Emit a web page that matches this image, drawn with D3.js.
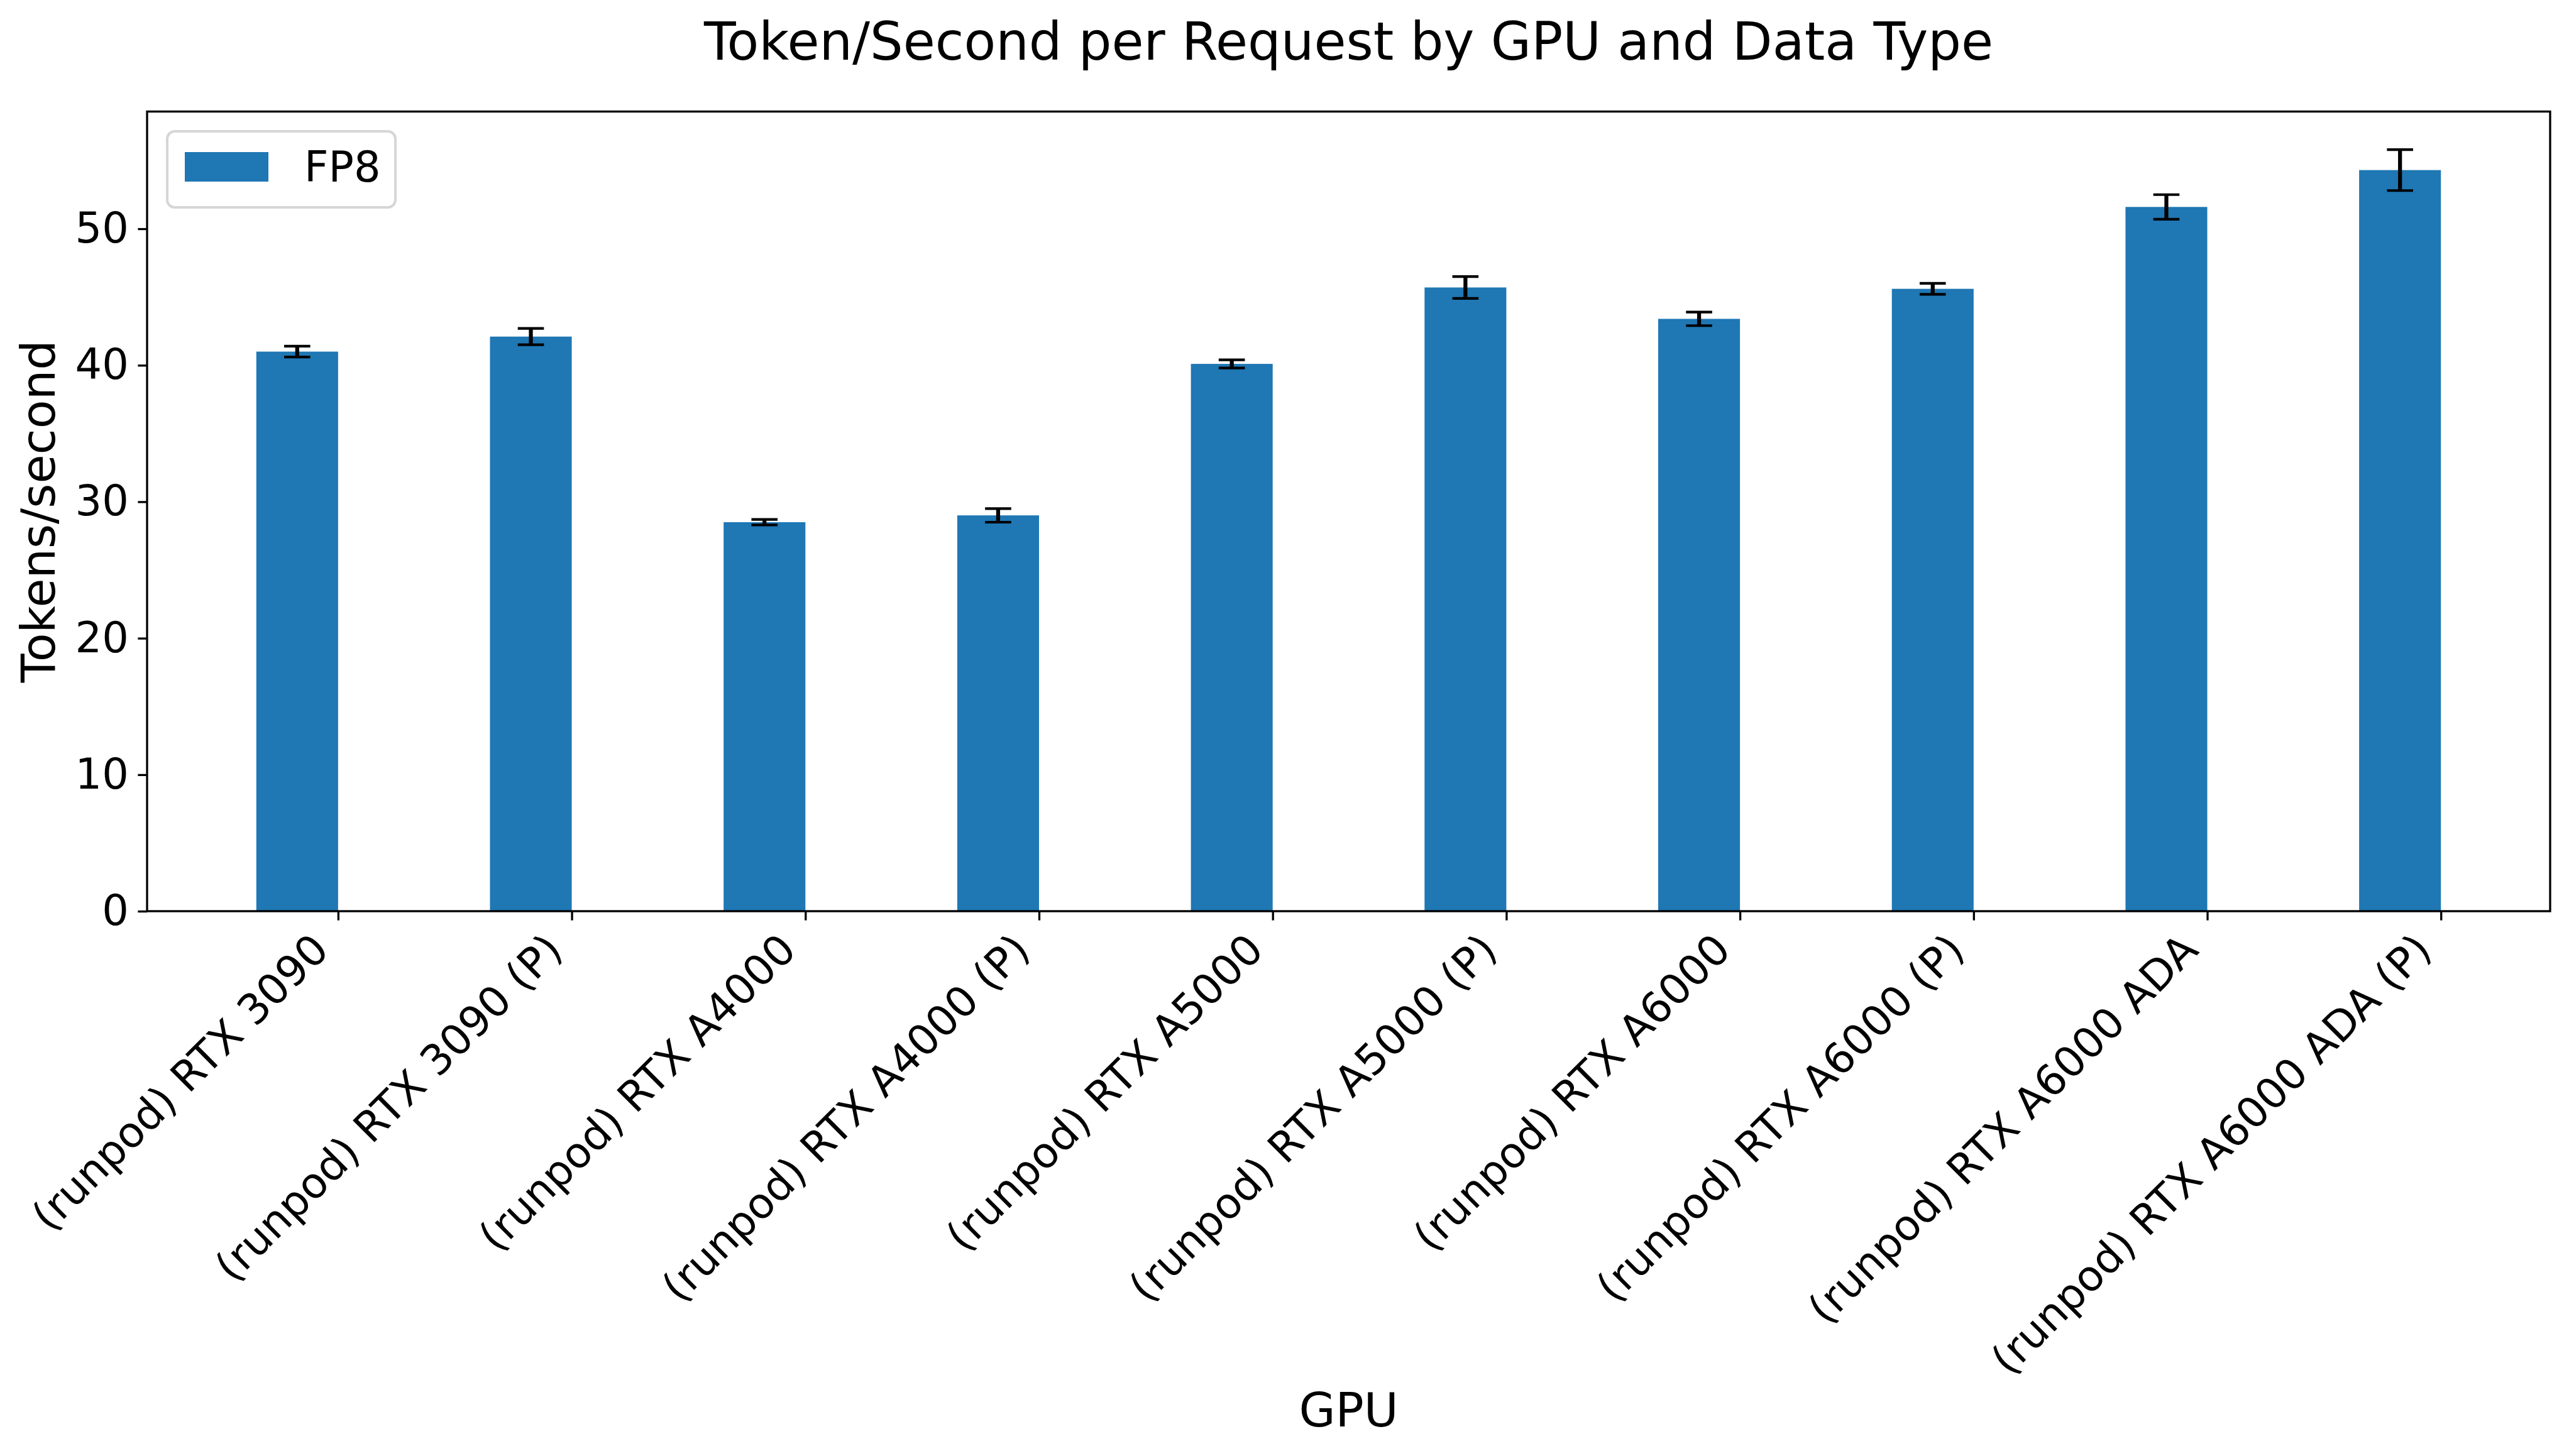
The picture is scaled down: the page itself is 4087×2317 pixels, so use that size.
<!DOCTYPE html>
<html>
<head>
<meta charset="utf-8">
<script src="https://cdn.jsdelivr.net/npm/d3@7"></script>
<style>
  body { margin: 0; background: #fff; }
  text { font-family: "DejaVu Sans", sans-serif; }
</style>
</head>
<body>
<div id="chart"></div>
<script>
// Data
var gpus = [
  "(runpod) RTX 3090",
  "(runpod) RTX 3090 (P)",
  "(runpod) RTX A4000",
  "(runpod) RTX A4000 (P)",
  "(runpod) RTX A5000",
  "(runpod) RTX A5000 (P)",
  "(runpod) RTX A6000",
  "(runpod) RTX A6000 (P)",
  "(runpod) RTX A6000 ADA",
  "(runpod) RTX A6000 ADA (P)"
];
var fp8Values = [41.0, 42.1, 28.5, 29.0, 40.1, 45.7, 43.4, 45.6, 51.6, 54.3];
var fp8Errors = [0.4, 0.6, 0.2, 0.5, 0.3, 0.8, 0.5, 0.4, 0.9, 1.5];
var yTicks = [0, 10, 20, 30, 40, 50];
var seriesName = "FP8";

// svg size + plot box
var svgWidth = 4087;
var svgHeight = 2317;
var plot = { left: 234, right: 4057, top: 177.5, bottom: 1450 };

var barWidth = 0.35; // in category units, bar sits left of the tick
var tickFont = 67;
var labelFont = 75;
var titleFont = 83;
var blue = "#1f77b4";

var svg = d3.select("#chart")
  .append("svg")
  .attr("width", svgWidth)
  .attr("height", svgHeight);

// x is linear over the index, matplotlib style margins
var xMin = -barWidth;
var xMax = gpus.length - 1;
var xPad = (xMax - xMin) * 0.05;
var x = d3.scaleLinear()
  .domain([xMin - xPad, xMax + xPad])
  .range([plot.left, plot.right]);

var yTop = d3.max(fp8Values, (d, i) => d + fp8Errors[i]) * 1.05;
var y = d3.scaleLinear()
  .domain([0, yTop])
  .range([plot.bottom, plot.top]);

// bars
svg.append("g")
  .selectAll("rect")
  .data(fp8Values)
  .enter()
  .append("rect")
  .attr("x", (d, i) => x(i - barWidth))
  .attr("width", x(barWidth) - x(0))
  .attr("y", d => y(d))
  .attr("height", d => y(0) - y(d))
  .attr("fill", blue);

// error bars
var capHalf = 20.8;
var errGroup = svg.append("g")
  .selectAll("g")
  .data(fp8Values)
  .enter()
  .append("g");

errGroup.append("line")
  .attr("x1", (d, i) => x(i - barWidth / 2))
  .attr("x2", (d, i) => x(i - barWidth / 2))
  .attr("y1", (d, i) => y(d - fp8Errors[i]))
  .attr("y2", (d, i) => y(d + fp8Errors[i]))
  .attr("stroke", "#000")
  .attr("stroke-width", 6.25);

[-1, 1].forEach(function(sign) {
  errGroup.append("line")
    .attr("x1", (d, i) => x(i - barWidth / 2) - capHalf)
    .attr("x2", (d, i) => x(i - barWidth / 2) + capHalf)
    .attr("y1", (d, i) => y(d + sign * fp8Errors[i]))
    .attr("y2", (d, i) => y(d + sign * fp8Errors[i]))
    .attr("stroke", "#000")
    .attr("stroke-width", 4.2);
});

// y axis
var leftAxis = d3.axisLeft(y)
  .tickValues(yTicks)
  .tickSize(14.6)
  .tickPadding(14.6);

var yAxis = svg.append("g")
  .attr("transform", `translate(${plot.left}, 0)`)
  .call(leftAxis);
yAxis.select(".domain").remove();
yAxis.selectAll("line").attr("stroke-width", 3.3);
yAxis.selectAll("text")
  .attr("font-size", tickFont)
  .attr("font-family", "DejaVu Sans")
  .attr("fill", "#000");

// x axis ticks (labels drawn separately, rotated)
var bottomAxis = d3.axisBottom(x)
  .tickValues(d3.range(gpus.length))
  .tickSize(14.6)
  .tickFormat("");

var xAxis = svg.append("g")
  .attr("transform", `translate(0, ${plot.bottom})`)
  .call(bottomAxis);
xAxis.select(".domain").remove();
xAxis.selectAll("line").attr("stroke-width", 3.3);

// rotated tick labels, right/top aligned at the tick
var c45 = Math.SQRT1_2;
var asc = 0.76 * tickFont;
var desc = 0.24 * tickFont;
var labelTop = plot.bottom + 14.6 + 14.6;
svg.append("g")
  .selectAll("text")
  .data(gpus)
  .enter()
  .append("text")
  .attr("transform", (d, i) =>
    `translate(${x(i) - desc * c45}, ${labelTop + asc * c45}) rotate(-45)`)
  .attr("text-anchor", "end")
  .attr("font-size", tickFont)
  .attr("fill", "#000")
  .text(d => d);

// frame
svg.append("rect")
  .attr("x", plot.left)
  .attr("y", plot.top)
  .attr("width", plot.right - plot.left)
  .attr("height", plot.bottom - plot.top)
  .attr("fill", "none")
  .attr("stroke", "#000")
  .attr("stroke-width", 3.3);

// title + axis labels
svg.append("text")
  .attr("x", (plot.left + plot.right) / 2)
  .attr("y", 95)
  .attr("text-anchor", "middle")
  .attr("font-size", titleFont)
  .text("Token/Second per Request by GPU and Data Type");

svg.append("text")
  .attr("x", (plot.left + plot.right) / 2)
  .attr("y", 2270)
  .attr("text-anchor", "middle")
  .attr("font-size", labelFont)
  .text("GPU");

svg.append("text")
  .attr("transform", `translate(87, ${(plot.top + plot.bottom) / 2}) rotate(-90)`)
  .attr("text-anchor", "middle")
  .attr("font-size", labelFont)
  .text("Tokens/second");

// legend
var legend = svg.append("g");
legend.append("rect")
  .attr("x", 266)
  .attr("y", 209)
  .attr("width", 363)
  .attr("height", 121)
  .attr("rx", 12)
  .attr("fill", "#fff")
  .attr("stroke", "#d6d6d6")
  .attr("stroke-width", 4);
legend.append("rect")
  .attr("x", 294)
  .attr("y", 242)
  .attr("width", 133)
  .attr("height", 47)
  .attr("fill", blue);
legend.append("text")
  .attr("x", 484)
  .attr("y", 289)
  .attr("font-size", tickFont)
  .text(seriesName);
</script>
</body>
</html>
